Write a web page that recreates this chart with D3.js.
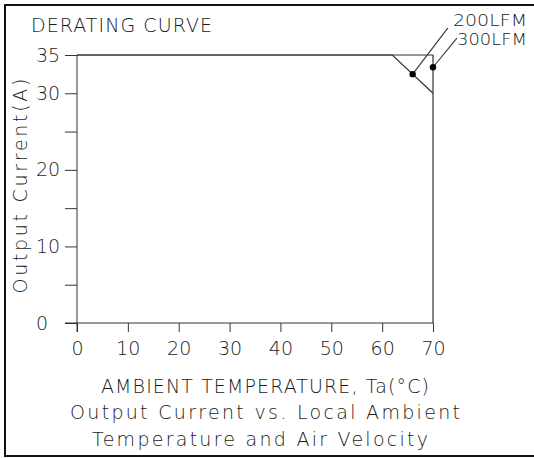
<!DOCTYPE html>
<html lang="en">
<head>
    <meta charset="UTF-8" />
    <title>Derating curve</title>
    <script src="https://d3js.org/d3.v7.min.js"></script>
    <style>
        html, body { margin: 0; background: #fff; overflow: hidden; }
        svg { display: block; }
        text { font-family: "DejaVu Sans", "Liberation Sans", sans-serif; font-weight: 200; fill: #1a1a1a; }
    </style>
</head>
<body>
    <div id="container"></div>
    <script>
        // data
        const xTicks = [0, 10, 20, 30, 40, 50, 60, 70]
        const yTicks = [0, 10, 20, 30, 35]
        const yMinorTicks = [5, 15, 25]

        // temperature (C) / current (A)
        const temp200 = [0, 62, 70]
        const curr200 = [35, 35, 30]
        const temp300 = [0, 70, 70]
        const curr300 = [35, 35, 0]

        const seriesNames = ["200LFM", "300LFM"]
        const markerTemp = [66, 70]
        const markerCurr = [32.5, 33.4]
        const labelTemp = [72.9, 74.7]
        const labelCurr = [38.5, 37.2]

        const width = 534
        const height = 458

        const svg = d3.select("#container")
            .append("svg")
            .attr("width", width)
            .attr("height", height)
            .attr("viewBox", [0, 0, width, height])

        // outer frame (right side runs off the picture)
        svg.append("rect")
            .attr("x", 5)
            .attr("y", 5)
            .attr("width", 560)
            .attr("height", 451)
            .attr("fill", "none")
            .attr("stroke", "#111")
            .attr("stroke-width", 2)

        const x = d3.scaleLinear()
            .domain([0, 70])
            .range([77, 433])

        const y = d3.scaleLinear()
            .domain([0, 35])
            .range([323, 55])

        const lineColor = "#333"

        // x axis, ticks hang below the line
        const xAxis = svg.append("g")
            .attr("transform", `translate(0,${y(0)})`)
            .call(d3.axisBottom(x).tickValues(xTicks).tickSize(9).tickSizeOuter(0).tickPadding(10))
        xAxis.select(".domain").remove()
        xAxis.selectAll("line").attr("stroke", lineColor)
        xAxis.selectAll("text")
            .attr("font-size", 19)
            .attr("fill", "#1a1a1a")
            .attr("font-family", null)

        // y axis
        const yAxis = svg.append("g")
            .attr("transform", `translate(${x(0)},0)`)
            .call(d3.axisLeft(y).tickValues(yTicks.concat(yMinorTicks)).tickSize(12).tickSizeOuter(0)
                .tickFormat(d => yTicks.includes(d) ? d : ""))
        yAxis.select(".domain").remove()
        yAxis.selectAll("line").attr("stroke", lineColor)
        yAxis.selectAll("text")
            .attr("font-size", 19)
            .attr("fill", "#1a1a1a")
            .attr("font-family", null)
            .attr("text-anchor", "start")
            .attr("x", 36 - x(0))

        // axis lines, extended past zero like the drawing
        svg.append("line")
            .attr("x1", x(0) - 12).attr("x2", x(70))
            .attr("y1", y(0)).attr("y2", y(0))
            .attr("stroke", lineColor)
        svg.append("line")
            .attr("x1", x(0)).attr("x2", x(0))
            .attr("y1", y(35)).attr("y2", y(0) + 9)
            .attr("stroke", lineColor)

        const line = d3.line()
            .x(d => x(d[0]))
            .y(d => y(d[1]))

        const curves = [d3.zip(temp200, curr200), d3.zip(temp300, curr300)]
        curves.forEach(c => {
            svg.append("path")
                .datum(c)
                .attr("fill", "none")
                .attr("stroke", lineColor)
                .attr("stroke-width", 1.2)
                .attr("d", line)
        })

        // leader lines + markers
        seriesNames.forEach((name, i) => {
            svg.append("line")
                .attr("x1", x(markerTemp[i])).attr("y1", y(markerCurr[i]))
                .attr("x2", x(labelTemp[i])).attr("y2", y(labelCurr[i]))
                .attr("stroke", lineColor)
                .attr("stroke-width", 1.1)
            svg.append("circle")
                .attr("cx", x(markerTemp[i]))
                .attr("cy", y(markerCurr[i]))
                .attr("r", 3.2)
                .attr("fill", "#000")
        })

        svg.append("text")
            .attr("x", 453).attr("y", 26)
            .attr("font-size", 16)
            .attr("textLength", 74).attr("lengthAdjust", "spacingAndGlyphs")
            .text(seriesNames[0])
        svg.append("text")
            .attr("x", 457).attr("y", 45)
            .attr("font-size", 16)
            .attr("textLength", 70).attr("lengthAdjust", "spacingAndGlyphs")
            .text(seriesNames[1])

        // titles
        svg.append("text")
            .attr("x", 31).attr("y", 32)
            .attr("font-size", 19)
            .attr("textLength", 181).attr("lengthAdjust", "spacing")
            .text("DERATING CURVE")

        svg.append("text")
            .attr("x", 265).attr("y", 393)
            .attr("font-size", 19)
            .attr("text-anchor", "middle")
            .attr("textLength", 328).attr("lengthAdjust", "spacing")
            .text("AMBIENT TEMPERATURE, Ta(°C)")

        svg.append("text")
            .attr("x", 265).attr("y", 419)
            .attr("font-size", 19)
            .attr("text-anchor", "middle")
            .attr("textLength", 390).attr("lengthAdjust", "spacing")
            .text("Output Current vs. Local Ambient")

        svg.append("text")
            .attr("x", 260).attr("y", 446)
            .attr("font-size", 19)
            .attr("text-anchor", "middle")
            .attr("textLength", 336).attr("lengthAdjust", "spacing")
            .text("Temperature and Air Velocity")

        svg.append("text")
            .attr("transform", "translate(27,186) rotate(-90)")
            .attr("font-size", 19)
            .attr("text-anchor", "middle")
            .attr("textLength", 215).attr("lengthAdjust", "spacing")
            .text("Output Current(A)")
    </script>
</body>
</html>
